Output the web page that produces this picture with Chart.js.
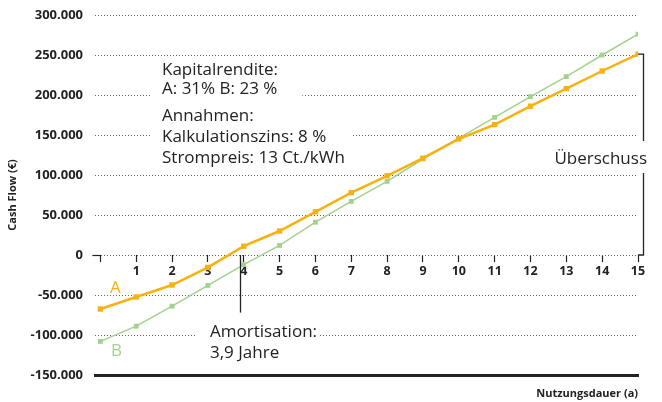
<!DOCTYPE html>
<html>
<head>
<meta charset="utf-8">
<script src="https://cdn.jsdelivr.net/npm/chart.js@4"></script>
<style>
  html, body { margin: 0; padding: 0; background: #fff; }
  #wrap { width: 662px; height: 402px; }
</style>
</head>
<body>
<div id="wrap"><canvas id="cashflow"></canvas></div>
<script>
// years of use
const years = [0, 1, 2, 3, 4, 5, 6, 7, 8, 9, 10, 11, 12, 13, 14, 15];
// cumulated cash flow in EUR
const seriesA = [-67500, -52500, -37500, -15500, 11000, 30000, 54000, 78000, 99000, 121000, 145000, 163000, 186000, 208000, 230000, 251000];
const seriesB = [-108000, -89000, -64000, -38000, -12000, 12000, 41000, 67000, 92000, 120000, 146000, 172000, 198000, 223000, 250000, 276000];
const xTicks = [0, 1, 2, 3, 4, 5, 6, 7, 8, 9, 10, 11, 12, 13, 14, 15];
const yTicks = [-150000, -100000, -50000, 0, 50000, 100000, 150000, 200000, 250000, 300000];
const payback = 3.9;

const orange = '#f8b10f';
const green = '#a2d28d';
const ink = '#222';
const textFont = '17px "Open Sans"';

function fmt(v) {
    return String(v).replace(/\B(?=(\d{3})+(?!\d))/g, '.');
}

function label(ctx, text, x, y, color, box) {
    ctx.font = textFont;
    const w = ctx.measureText(text).width;
    if (box) {
        ctx.fillStyle = '#fff';
        ctx.fillRect(x - box[0], y - 14, w + box[0] + box[1], 19);
    }
    ctx.fillStyle = color;
    ctx.fillText(text, x, y);
    return w;
}

const notes = {
    id: 'notes',
    afterDatasetsDraw(chart) {
        const {ctx, scales: {x, y}} = chart;
        ctx.save();
        ctx.textBaseline = 'alphabetic';
        ctx.textAlign = 'left';

        // assumptions block
        label(ctx, 'Kapitalrendite:', 162, 75, ink, [10, 25]);
        label(ctx, 'A: 31% B: 23 %', 162, 94, ink, [10, 25]);
        label(ctx, 'Annahmen:', 162, 121, ink, [10, 25]);
        label(ctx, 'Kalkulationszins: 8 %', 162, 142, ink, [10, 25]);
        label(ctx, 'Strompreis: 13 Ct./kWh', 162, 163, ink, null);

        // corner at the start of the time axis
        const x0 = x.getPixelForValue(0);
        const yZero = y.getPixelForValue(0);
        ctx.strokeStyle = ink;
        ctx.lineWidth = 1.2;
        ctx.beginPath();
        ctx.moveTo(x0 - 8, Math.round(yZero) + 0.5);
        ctx.lineTo(x0, Math.round(yZero) + 0.5);
        ctx.stroke();

        // payback marker
        const px = Math.round(x.getPixelForValue(payback)) + 0.5;
        ctx.lineWidth = 1.3;
        ctx.beginPath();
        ctx.moveTo(px, yZero);
        ctx.lineTo(px, y.getPixelForValue(-72000));
        ctx.stroke();
        label(ctx, 'Amortisation:', 210, 337, ink, [13, 3]);
        label(ctx, '3,9 Jahre', 210, 358, ink, null);

        // surplus bracket
        const x15 = x.getPixelForValue(15);
        const bx = x15 + 5.5;
        const yTop = y.getPixelForValue(seriesA[seriesA.length - 1]);
        ctx.beginPath();
        ctx.moveTo(x15, yTop);
        ctx.lineTo(bx, yTop);
        ctx.lineTo(bx, yZero);
        ctx.lineTo(x15, yZero);
        ctx.stroke();
        ctx.font = textFont;
        const sw = ctx.measureText('Überschuss').width;
        ctx.fillStyle = '#fff';
        ctx.fillRect(647 - sw - 3, 141, sw + 8, 32);
        ctx.fillStyle = ink;
        ctx.fillText('Überschuss', 647 - sw, 164);

        // series names
        label(ctx, 'A', 110, 293, orange, null);
        label(ctx, 'B', 111, 356, green, null);
        ctx.restore();
    }
};

new Chart(document.getElementById('cashflow'), {
    type: 'line',
    data: {
        datasets: [
            {
                label: 'A',
                data: years.map((v, i) => ({x: v, y: seriesA[i]})),
                borderColor: orange,
                backgroundColor: orange,
                borderWidth: 2.5,
                pointStyle: 'rect',
                pointRadius: 3.8,
                pointBorderWidth: 0,
                tension: 0
            },
            {
                label: 'B',
                data: years.map((v, i) => ({x: v, y: seriesB[i]})),
                borderColor: green,
                backgroundColor: green,
                borderWidth: 1.5,
                pointStyle: 'rect',
                pointRadius: 3.4,
                pointBorderWidth: 0,
                tension: 0
            }
        ]
    },
    options: {
        responsive: true,
        maintainAspectRatio: false,
        animation: false,
        layout: { padding: { top: 15, right: 24, left: 0, bottom: 0 } },
        plugins: {
            legend: { display: false },
            tooltip: { enabled: false }
        },
        scales: {
            x: {
                type: 'linear',
                min: -0.15,
                max: 15,
                position: { y: 0 },
                afterBuildTicks: (scale) => { scale.ticks = xTicks.map(v => ({value: v})); },
                ticks: {
                    callback: (v) => v === 0 ? '' : v,
                    color: ink,
                    padding: 2,
                    maxRotation: 0,
                    font: { family: 'Open Sans', size: 12.5, weight: 'bold' }
                },
                grid: {
                    drawOnChartArea: false,
                    drawTicks: true,
                    tickLength: 7,
                    tickColor: ink,
                    tickWidth: 1.2
                },
                border: { display: false }
            },
            x2: {
                type: 'linear',
                min: -0.15,
                max: 15,
                position: 'bottom',
                afterFit: (scale) => { scale.height = 27; },
                ticks: { display: false },
                grid: { display: false },
                border: { display: true, color: ink, width: 3 },
                title: {
                    display: true,
                    text: 'Nutzungsdauer (a)',
                    align: 'end',
                    color: ink,
                    padding: { top: 0, bottom: 2 },
                    font: { family: 'Open Sans', size: 11, weight: 'bold' }
                }
            },
            y: {
                min: -150000,
                max: 300000,
                afterFit: (scale) => { scale.width = 95; },
                afterBuildTicks: (scale) => { scale.ticks = yTicks.map(v => ({value: v})); },
                ticks: {
                    callback: (v) => fmt(v),
                    color: ink,
                    padding: 2,
                    font: { family: 'Open Sans', size: 13, weight: 'bold' }
                },
                grid: {
                    drawTicks: true,
                    tickLength: 10,
                    tickColor: 'rgba(0,0,0,0)',
                    color: (c) => c.tick && c.tick.value === -150000 ? 'rgba(0,0,0,0)' : '#666',
                    lineWidth: 1
                },
                border: { display: false, dash: [1, 2] },
                title: {
                    display: true,
                    text: 'Cash Flow (€)',
                    color: ink,
                    padding: { top: 6, bottom: 0 },
                    font: { family: 'Open Sans', size: 11, weight: 'bold' }
                }
            }
        }
    },
    plugins: [notes]
});
</script>
</body>
</html>
